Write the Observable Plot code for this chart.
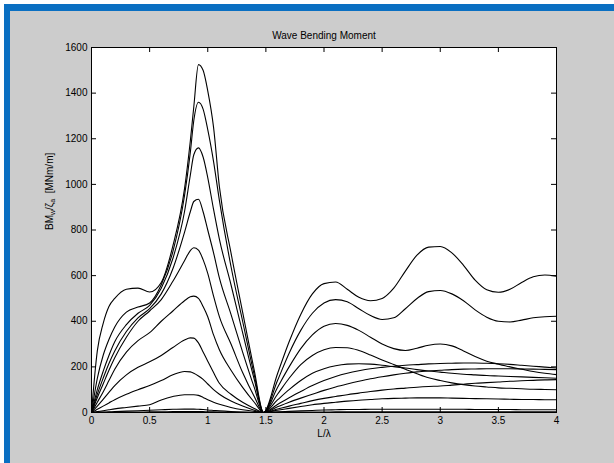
<!DOCTYPE html>
<html><head><meta charset="utf-8">
<script src="https://cdn.jsdelivr.net/npm/d3@7"></script>
<script src="https://cdn.jsdelivr.net/npm/@observablehq/plot@0.6"></script>
<style>
html,body{margin:0;padding:0;background:#fff;}
#wrap{position:relative;width:614px;height:463px;overflow:hidden;background:#fff;}
#blue{position:absolute;left:4px;top:4px;right:0;bottom:0;background:#0a6fc2;}
#gray{position:absolute;left:10px;top:11px;right:0;bottom:0;background:#cccccc;}
#chart{position:absolute;left:0;top:0;}
</style></head><body>
<div id="wrap"><div id="blue"></div><div id="gray"></div><div id="chart"></div></div>
<script>
const title = "Wave Bending Moment";
const xLabel = "L/λ";
const yLabelParts = ["BM", "w", "/ζ", "a", "  [MNm/m]"];
const xTicks = [0, 0.5, 1, 1.5, 2, 2.5, 3, 3.5, 4];
const yTicks = [0, 200, 400, 600, 800, 1000, 1200, 1400, 1600];

// L/lambda sample points
const lk = [0,0.05,0.1,0.15,0.2,0.3,0.4,0.5,0.6,0.7,0.8,0.85,0.88,0.92,0.96,1.0,1.05,1.1,1.2,1.3,1.4,
  1.48,
  1.6,1.7,1.8,1.9,2.0,2.1,2.2,2.3,2.4,2.5,2.6,2.7,2.8,2.9,3.0,3.1,3.2,3.3,3.4,3.5,3.6,3.7,3.8,3.9,4.0];

const bm1 = [0,270,390,465,500,540,545,528,570,730,980,1190,1340,1525,1500,1410,1250,990,700,440,185,
  0,
  170,310,430,520,565,572,540,505,490,500,545,620,690,725,728,700,645,580,538,527,540,570,595,603,598];
const bm2 = [0,150,250,320,375,440,462,480,560,705,950,1140,1280,1360,1330,1240,1100,930,640,400,165,
  0,
  140,260,360,435,480,495,485,455,425,408,415,455,500,530,535,520,490,450,418,400,397,405,415,420,422];
const bm3 = [0,100,180,250,310,385,435,470,545,675,880,1040,1130,1160,1120,1030,890,760,560,350,145,
  0,
  110,200,280,340,378,390,382,360,330,300,280,272,282,295,300,292,270,245,225,212,200,190,180,172,166];
const bm4 = [0,80,150,215,270,355,415,455,520,630,790,880,925,935,880,800,700,590,430,265,110,
  0,
  80,150,210,250,275,285,284,272,252,230,210,190,170,152,140,130,122,116,112,108,106,104,102,101,100];
const bm5 = [0,65,125,185,240,330,400,445,495,575,665,710,722,712,670,610,510,420,300,175,70,
  0,
  55,100,140,172,192,205,212,214,212,207,201,195,188,182,177,172,168,165,162,160,158,156,154,152,150];
const bm6 = [0,45,90,140,190,265,315,350,400,445,490,507,510,500,465,420,340,275,185,110,45,
  0,
  35,65,92,118,140,158,172,183,192,198,203,207,210,213,215,216,217,217,216,214,211,207,203,199,195];
const bm7 = [0,28,58,88,118,165,198,222,250,285,318,327,326,305,265,225,175,128,80,45,18,
  0,
  25,45,63,80,97,112,125,137,148,157,165,172,178,182,185,188,190,191,192,192,192,191,190,189,188];
const bm8 = [0,14,28,42,56,80,100,118,140,165,180,178,172,160,145,125,100,80,50,28,10,
  0,
  15,28,40,52,62,70,78,85,92,98,103,107,111,114,116,120,124,128,131,134,137,139,141,143,144];
const bm9 = [0,4,8,12,16,22,28,34,55,70,78,78,78,75,66,56,45,36,22,12,5,
  0,
  10,18,26,34,40,45,50,54,57,60,62,63,64,64,64,63,62,61,60,59,58,57,57,56,56];
const bm10 = [0,1,2,3,4,6,8,10,12,14,15,15,15,14,13,11,9,7,4,2,1,
  0,
  3,5,7,9,11,12,13,13,14,14,14,14,14,14,14,14,14,13,13,13,13,12,12,12,12];
const bm11 = [0,0,1,1,1,2,2,3,3,4,4,4,4,4,4,3,3,2,1,1,0,
  0,
  1,1,2,2,2,3,3,3,3,3,3,3,3,3,3,3,3,3,3,3,3,3,3,3,3];

const series = {bm1, bm2, bm3, bm4, bm5, bm6, bm7, bm8, bm9, bm10, bm11};
const rows = [];
for (const [name, vals] of Object.entries(series)) {
  lk.forEach((x, i) => rows.push({x, v: vals[i], s: name}));
}

const W = 614, H = 463;
const mL = 91, mR = 58, mT = 47, mB = 51;
const fw = W - mL - mR, fh = H - mT - mB, tk = 5;
const yLabelText = yLabelParts.join("");

const chart = Plot.plot({
  width: W, height: H,
  marginLeft: mL, marginRight: mR, marginTop: mT, marginBottom: mB,
  style: {background: "transparent", fontFamily: "'Liberation Sans', Arial, sans-serif", fontSize: "10px", color: "black"},
  x: {domain: [0, 4]},
  y: {domain: [0, 1600]},
  marks: [
    Plot.frame({fill: "white", stroke: null}),
    Plot.line(rows, {x: "x", y: "v", z: "s", curve: "monotone-x", stroke: "black", strokeWidth: 1.1}),
    Plot.ruleX(xTicks, {stroke: "black", insetTop: fh - tk}),
    Plot.ruleX(xTicks, {stroke: "black", insetBottom: fh - tk}),
    Plot.ruleY(yTicks, {stroke: "black", insetRight: fw - tk}),
    Plot.ruleY(yTicks, {stroke: "black", insetLeft: fw - tk}),
    Plot.frame({stroke: "black", strokeWidth: 1}),
    Plot.axisX({ticks: xTicks, tickSize: 0, tickPadding: 4, label: null, tickFormat: d => String(d)}),
    Plot.axisY({ticks: yTicks, tickSize: 0, tickPadding: 4, label: null, tickFormat: d => String(d)}),
    Plot.text([xLabel], {frameAnchor: "bottom", dy: 24, text: d => d, fill: "black"}),
    Plot.text([title], {frameAnchor: "top", dy: -16, text: d => d, fill: "black"}),
    Plot.text([yLabelText], {frameAnchor: "left", dx: -42, rotate: -90, text: d => d, fill: "black"})
  ]
});
document.getElementById("chart").appendChild(chart);

// y label with subscripts
d3.select(chart).selectAll("text").filter(function() { return this.textContent === yLabelText; })
  .each(function() {
    const t = d3.select(this);
    t.text(null);
    t.append("tspan").text(yLabelParts[0]);
    t.append("tspan").attr("dy", 2).attr("font-size", 7).text(yLabelParts[1]);
    t.append("tspan").attr("dy", -2).text(yLabelParts[2]);
    t.append("tspan").attr("dy", 2).attr("font-size", 7).text(yLabelParts[3]);
    t.append("tspan").attr("dy", -2).attr("xml:space", "preserve").text(yLabelParts[4]);
  });
</script>
</body></html>
